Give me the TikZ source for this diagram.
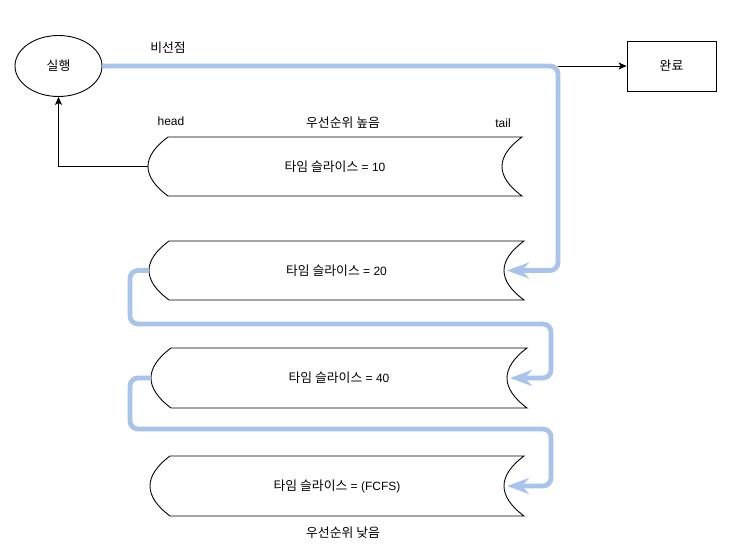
\documentclass[tikz,border=0pt]{standalone}
\usepackage{fontspec}
\setmainfont{Liberation Sans}
\newfontfamily\kr[Scale=1.07]{Noto Sans CJK KR}
\usetikzlibrary{arrows.meta,shapes.geometric}
\definecolor{flowblue}{HTML}{A9C4EB}

\tikzset{
  lbl/.style={font=\fontsize{12}{14}\selectfont, inner sep=0pt},
  outline/.style={draw=black, line width=0.9pt},
  arr/.style={draw=black, line width=0.9pt, -{Stealth[length=8pt,width=7pt,inset=2pt]}},
  flow/.style={draw=flowblue, line width=4.8pt, rounded corners=8pt,
    -{Stealth[length=22pt,width=16pt,inset=7pt]}},
}

% queue band: convex left end, concave right end
% #1 name, #2 left, #3 right, #4 top, #5 bottom, #6 text
\newcommand\queueband[6]{%
  \pgfmathsetmacro\qmid{(#4+#5)/2}%
  \pgfmathsetmacro\qthird{(#5-#4)/3}%
  \draw[outline] (#2+20,#4) -- (#3,#4)
    .. controls (#3-26.667,#4+\qthird) and (#3-26.667,#5-\qthird) .. (#3,#5)
    -- (#2+20,#5)
    .. controls (#2-6.667,#5-\qthird) and (#2-6.667,#4+\qthird) .. (#2+20,#4) -- cycle;
  \node[lbl] (#1) at ({(#2+#3)/2},\qmid) {#6};
  \coordinate (#1-in) at (#3-17,\qmid);
  \coordinate (#1-out) at (#2,\qmid);
}

\begin{document}
\begin{tikzpicture}[x=1pt,y=-1pt]
  \useasboundingbox (0,0) rectangle (739,556);

  % process states
  \node[outline, ellipse, minimum width=87pt, minimum height=61pt, lbl] (run) at (58.5,66) {\kr 실행};
  \node[outline, minimum width=89pt, minimum height=50pt, lbl] (done) at (671.5,66) {\kr 완료};

  % queues, highest priority first
  \queueband{q1}{148}{522}{137}{196}{{\kr 타임 슬라이스} = 10}
  \queueband{q2}{149}{524}{241}{300}{{\kr 타임 슬라이스} = 20}
  \queueband{q3}{151}{527}{348}{408}{{\kr 타임 슬라이스} = 40}
  \queueband{q4}{150}{524}{456}{516}{{\kr 타임 슬라이스} = (FCFS)}

  % labels
  \node[lbl] (npre) at (168,48) {\kr 비선점};
  \node[lbl] (head) at (171,121) {head};
  \node[lbl] (high) at (343,123) {\kr 우선순위 높음};
  \node[lbl] (tail) at (503,123) {tail};
  \node[lbl] (low) at (343,533) {\kr 우선순위 낮음};

  % routing points
  \coordinate (split) at (558,66);
  \coordinate (l2) at (130,324);
  \coordinate (r2) at (551,378);
  \coordinate (l3) at (130,429);
  \coordinate (r3) at (551,486);

  % dispatch and completion
  \draw[arr] (q1-out) -| (run.south);
  \draw[arr] (split) -- (done.west);

  % demotion to lower queues
  \draw[flow] (run.east) -- (split) |- (q2-in);
  \draw[flow] (q2-out) -| (l2) -| (r2) -- (q3-in);
  \draw[flow] (q3-out) -| (l3) -| (r3) -- (q4-in);
\end{tikzpicture}
\end{document}
